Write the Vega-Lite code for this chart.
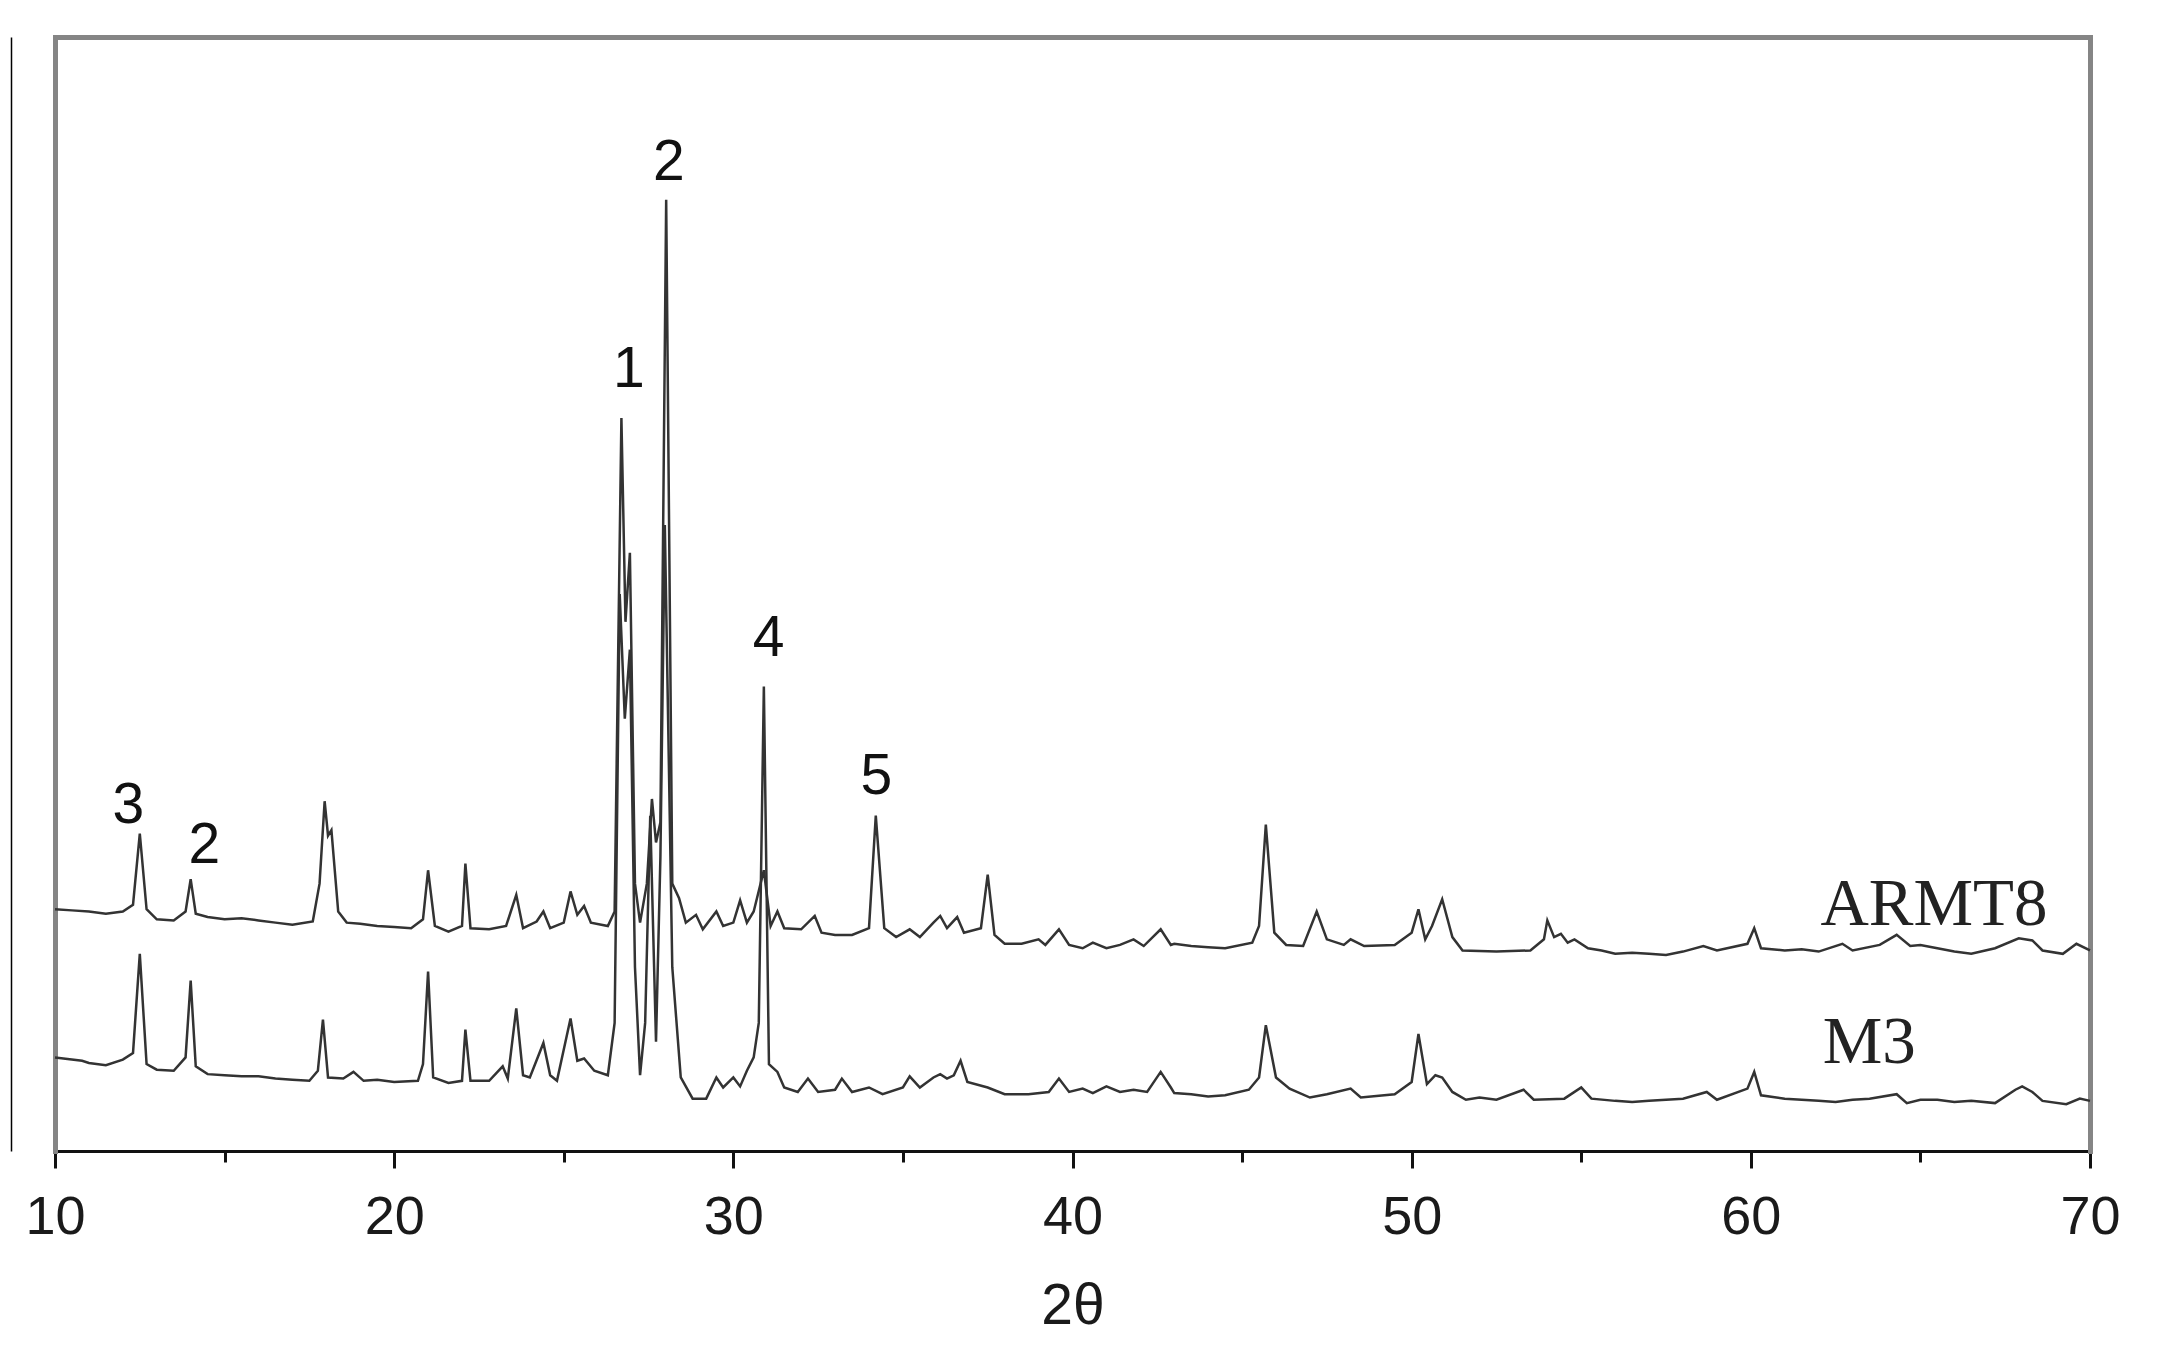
{
"$schema": "https://vega.github.io/schema/vega-lite/v6.json",
"width": 2035, "height": 1114,
"autosize": {"type": "none"},
"padding": {"left": 55, "top": 37, "right": 77, "bottom": 206},
"background": "white",
"config": {"view": {"stroke": null}},
"datasets": {
"xrd": [
{"s":"ARMT8","t":10,"v":21.7},{"s":"ARMT8","t":10.5,"v":21.6},{"s":"ARMT8","t":11,"v":21.5},{"s":"ARMT8","t":11.5,"v":21.3},{"s":"ARMT8","t":12.0,"v":21.5},{"s":"ARMT8","t":12.3,"v":22.1},{"s":"ARMT8","t":12.5,"v":28.5},{"s":"ARMT8","t":12.7,"v":21.7},{"s":"ARMT8","t":13.0,"v":20.8},{"s":"ARMT8","t":13.5,"v":20.7},{"s":"ARMT8","t":13.85,"v":21.5},{"s":"ARMT8","t":14.0,"v":24.4},{"s":"ARMT8","t":14.15,"v":21.3},{"s":"ARMT8","t":14.5,"v":21.0},{"s":"ARMT8","t":15,"v":20.8},{"s":"ARMT8","t":15.5,"v":20.9},{"s":"ARMT8","t":16,"v":20.7},{"s":"ARMT8","t":16.5,"v":20.5},{"s":"ARMT8","t":17,"v":20.3},{"s":"ARMT8","t":17.6,"v":20.6},{"s":"ARMT8","t":17.8,"v":24.0},{"s":"ARMT8","t":17.95,"v":31.4},{"s":"ARMT8","t":18.05,"v":28.3},{"s":"ARMT8","t":18.15,"v":28.8},{"s":"ARMT8","t":18.35,"v":21.5},{"s":"ARMT8","t":18.6,"v":20.5},{"s":"ARMT8","t":19.0,"v":20.4},{"s":"ARMT8","t":19.5,"v":20.2},{"s":"ARMT8","t":20.0,"v":20.1},{"s":"ARMT8","t":20.5,"v":20.0},{"s":"ARMT8","t":20.85,"v":20.8},{"s":"ARMT8","t":21.0,"v":25.2},{"s":"ARMT8","t":21.2,"v":20.2},{"s":"ARMT8","t":21.6,"v":19.7},{"s":"ARMT8","t":22.0,"v":20.2},{"s":"ARMT8","t":22.1,"v":25.8},{"s":"ARMT8","t":22.25,"v":20.0},{"s":"ARMT8","t":22.8,"v":19.9},{"s":"ARMT8","t":23.3,"v":20.2},{"s":"ARMT8","t":23.6,"v":23.0},{"s":"ARMT8","t":23.8,"v":20.0},{"s":"ARMT8","t":24.2,"v":20.6},{"s":"ARMT8","t":24.4,"v":21.5},{"s":"ARMT8","t":24.6,"v":20.0},{"s":"ARMT8","t":25.0,"v":20.5},{"s":"ARMT8","t":25.2,"v":23.3},{"s":"ARMT8","t":25.4,"v":21.2},{"s":"ARMT8","t":25.6,"v":22.0},{"s":"ARMT8","t":25.8,"v":20.5},{"s":"ARMT8","t":26.3,"v":20.2},{"s":"ARMT8","t":26.5,"v":21.5},{"s":"ARMT8","t":26.7,"v":65.8},{"s":"ARMT8","t":26.82,"v":47.5},{"s":"ARMT8","t":26.95,"v":53.7},{"s":"ARMT8","t":27.1,"v":24.0},{"s":"ARMT8","t":27.25,"v":20.5},{"s":"ARMT8","t":27.45,"v":24.0},{"s":"ARMT8","t":27.6,"v":31.6},{"s":"ARMT8","t":27.72,"v":27.7},{"s":"ARMT8","t":27.85,"v":29.5},{"s":"ARMT8","t":28.02,"v":85.4},{"s":"ARMT8","t":28.2,"v":24.0},{"s":"ARMT8","t":28.4,"v":22.7},{"s":"ARMT8","t":28.6,"v":20.5},{"s":"ARMT8","t":28.9,"v":21.2},{"s":"ARMT8","t":29.1,"v":19.9},{"s":"ARMT8","t":29.5,"v":21.5},{"s":"ARMT8","t":29.7,"v":20.2},{"s":"ARMT8","t":30.0,"v":20.5},{"s":"ARMT8","t":30.2,"v":22.5},{"s":"ARMT8","t":30.4,"v":20.5},{"s":"ARMT8","t":30.6,"v":21.5},{"s":"ARMT8","t":30.9,"v":25.2},{"s":"ARMT8","t":31.1,"v":20.2},{"s":"ARMT8","t":31.3,"v":21.5},{"s":"ARMT8","t":31.5,"v":20.0},{"s":"ARMT8","t":32.0,"v":19.9},{"s":"ARMT8","t":32.4,"v":21.1},{"s":"ARMT8","t":32.6,"v":19.6},{"s":"ARMT8","t":33.0,"v":19.4},{"s":"ARMT8","t":33.5,"v":19.4},{"s":"ARMT8","t":34.0,"v":20.0},{"s":"ARMT8","t":34.2,"v":30.1},{"s":"ARMT8","t":34.45,"v":20.0},{"s":"ARMT8","t":34.8,"v":19.2},{"s":"ARMT8","t":35.2,"v":19.9},{"s":"ARMT8","t":35.5,"v":19.2},{"s":"ARMT8","t":35.9,"v":20.5},{"s":"ARMT8","t":36.1,"v":21.1},{"s":"ARMT8","t":36.3,"v":20.0},{"s":"ARMT8","t":36.6,"v":21.0},{"s":"ARMT8","t":36.8,"v":19.6},{"s":"ARMT8","t":37.3,"v":20.0},{"s":"ARMT8","t":37.5,"v":24.8},{"s":"ARMT8","t":37.7,"v":19.4},{"s":"ARMT8","t":38.0,"v":18.6},{"s":"ARMT8","t":38.5,"v":18.6},{"s":"ARMT8","t":39.0,"v":19.0},{"s":"ARMT8","t":39.2,"v":18.5},{"s":"ARMT8","t":39.6,"v":19.9},{"s":"ARMT8","t":39.9,"v":18.5},{"s":"ARMT8","t":40.3,"v":18.2},{"s":"ARMT8","t":40.6,"v":18.7},{"s":"ARMT8","t":41.0,"v":18.2},{"s":"ARMT8","t":41.4,"v":18.5},{"s":"ARMT8","t":41.8,"v":19.0},{"s":"ARMT8","t":42.1,"v":18.4},{"s":"ARMT8","t":42.6,"v":19.9},{"s":"ARMT8","t":42.9,"v":18.5},{"s":"ARMT8","t":43.0,"v":18.6},{"s":"ARMT8","t":43.5,"v":18.4},{"s":"ARMT8","t":44.0,"v":18.3},{"s":"ARMT8","t":44.5,"v":18.2},{"s":"ARMT8","t":45.3,"v":18.7},{"s":"ARMT8","t":45.5,"v":20.2},{"s":"ARMT8","t":45.7,"v":29.3},{"s":"ARMT8","t":45.95,"v":19.6},{"s":"ARMT8","t":46.3,"v":18.5},{"s":"ARMT8","t":46.8,"v":18.4},{"s":"ARMT8","t":47.2,"v":21.5},{"s":"ARMT8","t":47.5,"v":19.0},{"s":"ARMT8","t":48.0,"v":18.5},{"s":"ARMT8","t":48.2,"v":19.0},{"s":"ARMT8","t":48.6,"v":18.4},{"s":"ARMT8","t":49.5,"v":18.5},{"s":"ARMT8","t":50.0,"v":19.6},{"s":"ARMT8","t":50.2,"v":21.7},{"s":"ARMT8","t":50.4,"v":19.0},{"s":"ARMT8","t":50.6,"v":20.2},{"s":"ARMT8","t":50.9,"v":22.6},{"s":"ARMT8","t":51.2,"v":19.2},{"s":"ARMT8","t":51.5,"v":18.0},{"s":"ARMT8","t":52.5,"v":17.9},{"s":"ARMT8","t":53.5,"v":18.0},{"s":"ARMT8","t":53.9,"v":19.0},{"s":"ARMT8","t":54.0,"v":20.7},{"s":"ARMT8","t":54.2,"v":19.2},{"s":"ARMT8","t":54.4,"v":19.5},{"s":"ARMT8","t":54.6,"v":18.7},{"s":"ARMT8","t":54.8,"v":19.0},{"s":"ARMT8","t":55.2,"v":18.2},{"s":"ARMT8","t":55.6,"v":18.0},{"s":"ARMT8","t":56,"v":17.7},{"s":"ARMT8","t":56.5,"v":17.8},{"s":"ARMT8","t":57,"v":17.7},{"s":"ARMT8","t":57.5,"v":17.6},{"s":"ARMT8","t":58,"v":17.9},{"s":"ARMT8","t":58.6,"v":18.4},{"s":"ARMT8","t":59.0,"v":18.0},{"s":"ARMT8","t":59.9,"v":18.6},{"s":"ARMT8","t":60.1,"v":20.0},{"s":"ARMT8","t":60.3,"v":18.2},{"s":"ARMT8","t":61,"v":18.0},{"s":"ARMT8","t":61.5,"v":18.1},{"s":"ARMT8","t":62,"v":17.9},{"s":"ARMT8","t":62.7,"v":18.6},{"s":"ARMT8","t":63.0,"v":18.0},{"s":"ARMT8","t":63.8,"v":18.5},{"s":"ARMT8","t":64.3,"v":19.4},{"s":"ARMT8","t":64.7,"v":18.4},{"s":"ARMT8","t":65.0,"v":18.5},{"s":"ARMT8","t":65.5,"v":18.2},{"s":"ARMT8","t":66.0,"v":17.9},{"s":"ARMT8","t":66.5,"v":17.7},{"s":"ARMT8","t":67.2,"v":18.2},{"s":"ARMT8","t":67.9,"v":19.1},{"s":"ARMT8","t":68.3,"v":18.9},{"s":"ARMT8","t":68.6,"v":18.0},{"s":"ARMT8","t":69.2,"v":17.7},{"s":"ARMT8","t":69.6,"v":18.6},{"s":"ARMT8","t":70,"v":18.0},
{"s":"M3","t":10,"v":8.4},{"s":"M3","t":10.8,"v":8.1},{"s":"M3","t":11.0,"v":7.9},{"s":"M3","t":11.5,"v":7.7},{"s":"M3","t":12.0,"v":8.2},{"s":"M3","t":12.3,"v":8.8},{"s":"M3","t":12.5,"v":17.7},{"s":"M3","t":12.7,"v":7.8},{"s":"M3","t":13.0,"v":7.3},{"s":"M3","t":13.5,"v":7.2},{"s":"M3","t":13.85,"v":8.4},{"s":"M3","t":14.0,"v":15.3},{"s":"M3","t":14.15,"v":7.6},{"s":"M3","t":14.5,"v":6.9},{"s":"M3","t":15.0,"v":6.8},{"s":"M3","t":15.5,"v":6.7},{"s":"M3","t":16.0,"v":6.7},{"s":"M3","t":16.5,"v":6.5},{"s":"M3","t":17.0,"v":6.4},{"s":"M3","t":17.5,"v":6.3},{"s":"M3","t":17.75,"v":7.2},{"s":"M3","t":17.9,"v":11.8},{"s":"M3","t":18.05,"v":6.6},{"s":"M3","t":18.5,"v":6.5},{"s":"M3","t":18.8,"v":7.1},{"s":"M3","t":19.1,"v":6.3},{"s":"M3","t":19.5,"v":6.4},{"s":"M3","t":20.0,"v":6.2},{"s":"M3","t":20.7,"v":6.3},{"s":"M3","t":20.85,"v":7.8},{"s":"M3","t":21.0,"v":16.1},{"s":"M3","t":21.15,"v":6.6},{"s":"M3","t":21.6,"v":6.1},{"s":"M3","t":22.0,"v":6.3},{"s":"M3","t":22.1,"v":10.9},{"s":"M3","t":22.25,"v":6.3},{"s":"M3","t":22.8,"v":6.3},{"s":"M3","t":23.2,"v":7.6},{"s":"M3","t":23.35,"v":6.5},{"s":"M3","t":23.6,"v":12.8},{"s":"M3","t":23.8,"v":6.8},{"s":"M3","t":24.0,"v":6.6},{"s":"M3","t":24.4,"v":9.7},{"s":"M3","t":24.6,"v":6.8},{"s":"M3","t":24.8,"v":6.3},{"s":"M3","t":25.2,"v":11.9},{"s":"M3","t":25.4,"v":8.1},{"s":"M3","t":25.6,"v":8.3},{"s":"M3","t":25.9,"v":7.2},{"s":"M3","t":26.3,"v":6.8},{"s":"M3","t":26.5,"v":11.5},{"s":"M3","t":26.65,"v":50.0},{"s":"M3","t":26.8,"v":38.8},{"s":"M3","t":26.95,"v":45.0},{"s":"M3","t":27.1,"v":16.5},{"s":"M3","t":27.25,"v":6.8},{"s":"M3","t":27.4,"v":11.5},{"s":"M3","t":27.55,"v":30.1},{"s":"M3","t":27.72,"v":9.8},{"s":"M3","t":27.85,"v":26.4},{"s":"M3","t":27.98,"v":56.2},{"s":"M3","t":28.2,"v":16.5},{"s":"M3","t":28.45,"v":6.6},{"s":"M3","t":28.8,"v":4.7},{"s":"M3","t":29.2,"v":4.7},{"s":"M3","t":29.5,"v":6.6},{"s":"M3","t":29.7,"v":5.7},{"s":"M3","t":30.0,"v":6.6},{"s":"M3","t":30.2,"v":5.8},{"s":"M3","t":30.4,"v":7.2},{"s":"M3","t":30.6,"v":8.4},{"s":"M3","t":30.75,"v":11.5},{"s":"M3","t":30.9,"v":41.7},{"s":"M3","t":31.05,"v":7.8},{"s":"M3","t":31.3,"v":7.1},{"s":"M3","t":31.5,"v":5.7},{"s":"M3","t":31.9,"v":5.3},{"s":"M3","t":32.2,"v":6.5},{"s":"M3","t":32.5,"v":5.3},{"s":"M3","t":33.0,"v":5.5},{"s":"M3","t":33.2,"v":6.5},{"s":"M3","t":33.5,"v":5.3},{"s":"M3","t":34.0,"v":5.7},{"s":"M3","t":34.4,"v":5.1},{"s":"M3","t":35.0,"v":5.7},{"s":"M3","t":35.2,"v":6.7},{"s":"M3","t":35.5,"v":5.7},{"s":"M3","t":35.9,"v":6.6},{"s":"M3","t":36.1,"v":6.9},{"s":"M3","t":36.3,"v":6.5},{"s":"M3","t":36.5,"v":6.8},{"s":"M3","t":36.7,"v":8.1},{"s":"M3","t":36.9,"v":6.2},{"s":"M3","t":37.5,"v":5.7},{"s":"M3","t":38.0,"v":5.1},{"s":"M3","t":38.7,"v":5.1},{"s":"M3","t":39.3,"v":5.3},{"s":"M3","t":39.6,"v":6.5},{"s":"M3","t":39.9,"v":5.3},{"s":"M3","t":40.3,"v":5.6},{"s":"M3","t":40.6,"v":5.2},{"s":"M3","t":41.0,"v":5.8},{"s":"M3","t":41.4,"v":5.3},{"s":"M3","t":41.8,"v":5.5},{"s":"M3","t":42.2,"v":5.3},{"s":"M3","t":42.6,"v":7.1},{"s":"M3","t":42.9,"v":5.7},{"s":"M3","t":43.0,"v":5.2},{"s":"M3","t":43.5,"v":5.1},{"s":"M3","t":44.0,"v":4.9},{"s":"M3","t":44.5,"v":5.0},{"s":"M3","t":45.2,"v":5.5},{"s":"M3","t":45.5,"v":6.6},{"s":"M3","t":45.7,"v":11.3},{"s":"M3","t":46.0,"v":6.6},{"s":"M3","t":46.4,"v":5.6},{"s":"M3","t":47.0,"v":4.8},{"s":"M3","t":47.5,"v":5.1},{"s":"M3","t":48.2,"v":5.6},{"s":"M3","t":48.5,"v":4.8},{"s":"M3","t":49.5,"v":5.1},{"s":"M3","t":50.0,"v":6.2},{"s":"M3","t":50.2,"v":10.5},{"s":"M3","t":50.45,"v":6.0},{"s":"M3","t":50.7,"v":6.8},{"s":"M3","t":50.9,"v":6.6},{"s":"M3","t":51.2,"v":5.3},{"s":"M3","t":51.6,"v":4.6},{"s":"M3","t":52.0,"v":4.8},{"s":"M3","t":52.5,"v":4.6},{"s":"M3","t":53.3,"v":5.5},{"s":"M3","t":53.6,"v":4.6},{"s":"M3","t":54.5,"v":4.7},{"s":"M3","t":55.0,"v":5.7},{"s":"M3","t":55.3,"v":4.7},{"s":"M3","t":56,"v":4.5},{"s":"M3","t":56.5,"v":4.4},{"s":"M3","t":57,"v":4.5},{"s":"M3","t":57.5,"v":4.6},{"s":"M3","t":58.0,"v":4.7},{"s":"M3","t":58.7,"v":5.3},{"s":"M3","t":59.0,"v":4.6},{"s":"M3","t":59.9,"v":5.6},{"s":"M3","t":60.1,"v":7.1},{"s":"M3","t":60.3,"v":5.0},{"s":"M3","t":61,"v":4.7},{"s":"M3","t":61.5,"v":4.6},{"s":"M3","t":62,"v":4.5},{"s":"M3","t":62.5,"v":4.4},{"s":"M3","t":63.0,"v":4.6},{"s":"M3","t":63.5,"v":4.7},{"s":"M3","t":64.3,"v":5.1},{"s":"M3","t":64.6,"v":4.3},{"s":"M3","t":65.0,"v":4.6},{"s":"M3","t":65.5,"v":4.6},{"s":"M3","t":66.0,"v":4.4},{"s":"M3","t":66.5,"v":4.5},{"s":"M3","t":67.2,"v":4.3},{"s":"M3","t":67.8,"v":5.5},{"s":"M3","t":68.0,"v":5.8},{"s":"M3","t":68.3,"v":5.3},{"s":"M3","t":68.6,"v":4.5},{"s":"M3","t":69.3,"v":4.2},{"s":"M3","t":69.7,"v":4.7},{"s":"M3","t":70,"v":4.5}
],
"peaks": [
{"t":12.16,"v":31.0,"label":"3"},{"t":14.4,"v":27.4,"label":"2"},{"t":26.92,"v":70.1,"label":"1"},{"t":28.1,"v":88.7,"label":"2"},{"t":31.04,"v":46.0,"label":"4"},{"t":34.22,"v":33.6,"label":"5"}
],
"names": [
{"t":65.4,"v":22.1,"label":"ARMT8"},{"t":63.49,"v":9.7,"label":"M3"}
]
},
"layer": [
{
"data": {"name": "xrd"},
"mark": {"type": "line", "color": "#333333", "strokeWidth": 2.5, "interpolate": "linear"},
"encoding": {
"x": {"field": "t", "type": "quantitative", "scale": {"domain": [10, 70], "nice": false, "zero": false},
"axis": {"orient": "bottom", "values": [10,15,20,25,30,35,40,45,50,55,60,65,70], "labelExpr": "datum.value % 10 === 0 ? datum.label : ''", "grid": false, "domainColor": "#111111", "domainWidth": 3, "tickColor": "#111111", "tickWidth": 3, "tickSize": {"condition": {"test": "datum.value % 10 === 0", "value": 17}, "value": 11}, "labelFont": "Liberation Sans", "labelFontSize": 54, "labelColor": "#1a1a1a", "labelPadding": 22, "labelFlush": false, "labelOverlap": false, "title": "2θ", "titleFont": "Liberation Sans", "titleFontSize": 57, "titleFontWeight": "normal", "titleColor": "#1a1a1a", "titlePadding": 34}},
"y": {"field": "v", "type": "quantitative", "scale": {"domain": [0, 100], "nice": false},
"axis": {"orient": "left", "grid": false, "ticks": false, "labels": false, "title": null, "domainColor": "#858585", "domainWidth": 5, "domainCap": "square"}},
"detail": {"field": "s"}
}
},
{
"data": {"name": "peaks"},
"mark": {"type": "text", "font": "Liberation Sans", "fontSize": 57, "color": "#111111", "align": "center", "baseline": "middle"},
"encoding": {
"x": {"field": "t", "type": "quantitative", "axis": {"orient": "top", "grid": false, "ticks": false, "labels": false, "title": null, "domainColor": "#858585", "domainWidth": 5, "domainCap": "square"}},
"y": {"field": "v", "type": "quantitative", "axis": {"orient": "right", "grid": false, "ticks": false, "labels": false, "title": null, "domainColor": "#858585", "domainWidth": 5, "domainCap": "square"}},
"text": {"field": "label"}
}
},
{
"data": {"name": "names"},
"mark": {"type": "text", "font": "Liberation Serif", "fontSize": 67, "color": "#222222", "align": "center", "baseline": "middle"},
"encoding": {
"x": {"field": "t", "type": "quantitative", "axis": null},
"y": {"field": "v", "type": "quantitative", "axis": {"orient": "left", "offset": 44, "grid": false, "ticks": false, "labels": false, "title": null, "domainColor": "#000000", "domainWidth": 1.5}},
"text": {"field": "label"}
}
}
],
"resolve": {"axis": {"x": "independent", "y": "independent"}}
}
